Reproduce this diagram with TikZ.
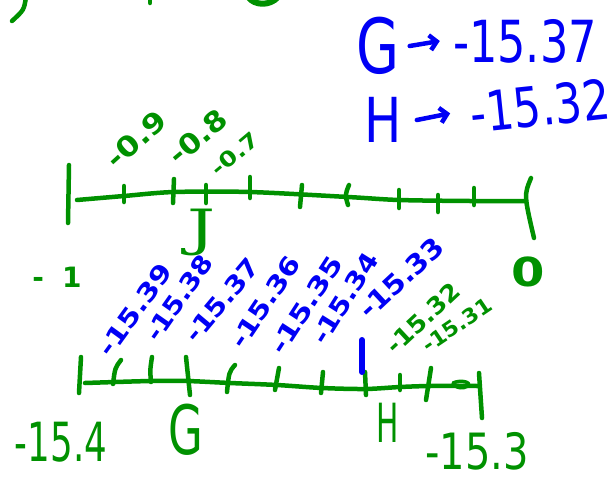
\documentclass[tikz,border=0pt]{standalone}
\usepackage{fontspec}
\setmainfont{DejaVu Sans}
\newfontfamily\jserif{DejaVu Serif}
\usepackage{graphicx}
\usetikzlibrary{arrows.meta}
\definecolor{hg}{RGB}{0,145,0}
\definecolor{hb}{RGB}{0,0,245}
\begin{document}
\begin{tikzpicture}[x=1pt,y=-1pt,
  gline/.style={hg, line width=4.5pt, line cap=round, line join=round},
  bline/.style={hb, line width=4.5pt, line cap=round, line join=round},
  glab/.style={hg, inner sep=0pt},
  blab/.style={hb, inner sep=0pt},
  smallb/.style={blab, font={\fontsize{25}{28}\selectfont\bfseries}},
  smallg/.style={glab, font={\fontsize{24}{28}\selectfont\bfseries}},
  harrow/.style={bline, -{Straight Barb[length=7pt,width=15pt]}},
]
\useasboundingbox (0,0) rectangle (616,482);

% fragments at the top edge
\draw[gline] (26,-3) .. controls (24,10) .. (12,21);
\draw[gline] (150,-3) -- (150,3);
\draw[gline, line width=6pt] (248,-3) .. controls (255,6) and (270,6) .. (278,-3);

% blue results
\node[blab, font={\fontsize{76}{80}\selectfont}] (bG) at (378,46) {\scalebox{0.73}[1]{G}};
\node[blab, font={\fontsize{58}{62}\selectfont}] (bGv) at (525,41) {\scalebox{0.77}[1]{-15.37}};
\draw[harrow] ([xshift=10pt]bG.east) -- ([xshift=-13pt]bGv.west);
\node[blab, font={\fontsize{62}{66}\selectfont}] (bH) at (383,120) {\scalebox{0.8}[1]{H}};
\node[blab, rotate=6, font={\fontsize{55}{60}\selectfont}] (bHv) at (540,106) {\scalebox{0.79}[1]{-15.32}};
\draw[harrow] ([xshift=15pt]bH.east) -- ([xshift=-20pt]bHv.west);

% top number line
\draw[gline] plot[smooth] coordinates {(77,200) (124,196) (174,192) (250,192) (348,197) (399,200) (470,201) (526,201)};
\draw[gline] (69,165) -- (68,223);
\draw[gline] (531,178) .. controls (524,195) .. (534,238);
\draw[gline] (124,186) -- (124,202);
\draw[gline] (174,179) -- (173,203);
\draw[gline] (206,185) -- (206,203);
\draw[gline] (250,177) -- (250,198);
\draw[gline] (302,185) -- (300,207);
\draw[gline] (349,185) .. controls (345,195) .. (348,205);
\draw[gline] (399,190) -- (399,208);
\draw[gline] (438,195) -- (438,212);
\draw[gline] (474,188) -- (474,205);

\node[glab, rotate=42, font={\fontsize{28}{30}\selectfont\bfseries}] (t9) at (136,139) {\scalebox{1.15}[1]{-0.9}};
\node[glab, rotate=40, font={\fontsize{28}{30}\selectfont\bfseries}] (t8) at (198,137) {\scalebox{1.1}[1]{-0.8}};
\node[glab, rotate=40, font={\fontsize{21}{24}\selectfont\bfseries}] (t7) at (235,154) {\scalebox{1.2}[1]{-0.7}};
\node[glab, font={\fontsize{50}{54}\jserif}] (J) at (202,232) {\scalebox{1.4}[1]{J}};
\node[glab, font={\fontsize{28}{32}\selectfont\bfseries}] (m1) at (57,277) {-\hspace{18pt}1};
\node[glab, font={\fontsize{40}{44}\selectfont\bfseries}] (z0) at (528,272) {\scalebox{1.2}[1]{0}};

% bottom number line
\draw[gline] plot[smooth] coordinates {(85,383) (150,381) (187,381) (230,383) (277,385) (322,388) (365,389) (400,387) (430,386) (478,386)};
\draw[gline, line width=3.5pt] (453,383) .. controls (462,379) and (472,383) .. (468,386) .. controls (463,389) and (456,388) .. (455,385);
\draw[gline] (81,357) -- (79,393);
\draw[gline] (121,360) .. controls (115,368) .. (113,384);
\draw[gline] (152,357) .. controls (150,370) .. (151,382);
\draw[gline] (186,357) -- (190,395);
\draw[gline] (235,365) .. controls (229,372) .. (227,392);
\draw[gline] (279,368) -- (275,390);
\draw[gline] (323,372) -- (321,393);
\draw[gline] (365,372) -- (366,395);
\draw[gline] (400,375) -- (400,390);
\draw[gline] (431,368) -- (426,400);
\draw[gline] (479,373) -- (482,418);
\draw[bline, line width=6pt] (362,340) -- (362,372);

\node[smallb, rotate=54] (l39) at (135,310) {\scalebox{1.2}[1]{-15.39}};
\node[smallb, rotate=55] (l38) at (179,298) {\scalebox{1.1}[1]{-15.38}};
\node[smallb, rotate=50] (l37) at (222,300) {\scalebox{1.13}[1]{-15.37}};
\node[smallb, rotate=56] (l36) at (265,302) {\scalebox{1.17}[1]{-15.36}};
\node[smallb, rotate=57] (l35) at (306,305) {\scalebox{1.25}[1]{-15.35}};
\node[smallb, rotate=58] (l34) at (345,298) {\scalebox{1.15}[1]{-15.34}};
\node[blab, rotate=43, font={\fontsize{27}{30}\selectfont\bfseries}] (l33) at (401,278) {\scalebox{1.08}[1]{-15.33}};
\node[smallg, rotate=43] (l32) at (423,318) {\scalebox{1.05}[1]{-15.32}};
\node[glab, rotate=34, font={\fontsize{21}{24}\selectfont\bfseries}] (l31) at (457,325) {\scalebox{1.05}[1]{-15.31}};

\node[glab, font={\fontsize{54}{58}\selectfont}] (b154) at (61,442) {\scalebox{0.66}[1]{-15.4}};
\node[glab, font={\fontsize{68}{72}\selectfont}] (gG) at (186,430) {\scalebox{0.66}[1]{G}};
\node[glab, font={\fontsize{54}{58}\selectfont}] (gH) at (388,423) {\scalebox{0.55}[1]{H}};
\node[glab, font={\fontsize{50}{54}\selectfont}] (b153) at (477,451) {\scalebox{0.8}[1]{-15.3}};
\end{tikzpicture}
\end{document}
